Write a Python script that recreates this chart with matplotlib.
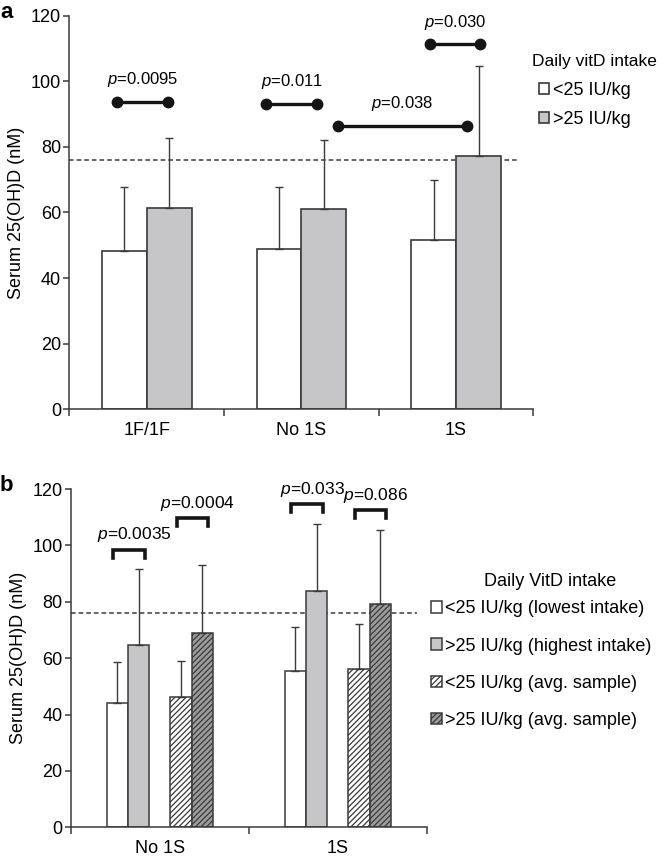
import matplotlib
matplotlib.use('Agg')
import matplotlib.pyplot as plt
import numpy as np

plt.rcParams['font.family'] = ['Liberation Sans', 'DejaVu Sans']
plt.rcParams['mathtext.fontset'] = 'custom'
plt.rcParams['mathtext.it'] = 'Liberation Sans:italic'
plt.rcParams['mathtext.rm'] = 'Liberation Sans'
plt.rcParams['hatch.linewidth'] = 0.9

# Panel a data
groups_a = ['1F/1F', 'No 1S', '1S']
low_a = [48.4, 48.9, 51.6]
low_a_sd = [19.4, 18.9, 18.2]
high_a = [61.5, 61.0, 77.1]
high_a_sd = [21.3, 21.0, 27.6]
pvals_a = ['0.0095', '0.011', '0.038', '0.030']
labels_a = ['<25 IU/kg', '>25 IU/kg']

# Panel b data
groups_b = ['No 1S', '1S']
lowest_b = [44.2, 55.5]
lowest_b_sd = [14.4, 15.5]
highest_b = [64.6, 83.7]
highest_b_sd = [27.1, 23.9]
avglow_b = [46.3, 56.3]
avglow_b_sd = [12.6, 15.7]
avghigh_b = [68.8, 79.2]
avghigh_b_sd = [24.1, 26.2]
pvals_b = ['0.0035', '0.0004', '0.033', '0.086']
labels_b = ['<25 IU/kg (lowest intake)', '>25 IU/kg (highest intake)',
            '<25 IU/kg (avg. sample)', '>25 IU/kg (avg. sample)']

threshold = 76.0

edge = '#3a3a3a'
gray = '#c6c6c8'
dgray = '#9c9c9c'

fig = plt.figure(figsize=(6.64, 8.57), dpi=100)
ax1 = fig.add_axes([0.1044, 0.5224, 0.699, 0.4593])
ax2 = fig.add_axes([0.1065, 0.0347, 0.5360, 0.3947])


def style_axis(ax, ncat):
    ax.set_ylim(0, 120)
    ax.set_xlim(-0.5, ncat - 0.5)
    ax.set_yticks(np.arange(0, 121, 20))
    for s in ['top', 'right']:
        ax.spines[s].set_visible(False)
    for s in ['left', 'bottom']:
        ax.spines[s].set_color(edge)
        ax.spines[s].set_linewidth(1.1)
    ax.tick_params(axis='y', direction='out', length=4, width=1.1, color=edge,
                   labelsize=13, pad=2)
    ax.set_xticks(np.arange(ncat + 1) - 0.5)
    ax.set_xticklabels([])
    ax.tick_params(axis='x', direction='out', length=5, width=1.1, color=edge)
    ax.set_ylabel('Serum 25(OH)D (nM)', fontsize=13, labelpad=4)


# ---------- panel a ----------
xa = np.arange(len(groups_a))
wa = 0.29
err_kw = dict(ecolor=edge, elinewidth=1.0, capsize=3, capthick=1.0)
ax1.bar(xa - wa / 2, low_a, wa, color='white', edgecolor=edge, linewidth=1.2,
        yerr=[np.zeros(3), low_a_sd], error_kw=err_kw, label=labels_a[0], zorder=2)
ax1.bar(xa + wa / 2, high_a, wa, color=gray, edgecolor=edge, linewidth=1.2,
        yerr=[np.zeros(3), high_a_sd], error_kw=err_kw, label=labels_a[1], zorder=2)
style_axis(ax1, len(groups_a))
for x, g in zip(xa, groups_a):
    ax1.text(x, -4, g, ha='center', va='top', fontsize=13)
ax1.axhline(threshold, xmax=0.967, color=edge, ls=(0, (3, 2)), lw=1.1, zorder=1)

# significance lines with dots
br_a = [(0 - 0.19, 0 + 0.135, 93.8), (1 - 0.226, 1 + 0.103, 93.1),
        (1 + 0.237, 2 + 0.07, 86.5), (2 - 0.168, 2 + 0.155, 111.3)]
for (x0, x1, y), p in zip(br_a, pvals_a):
    ax1.plot([x0, x1], [y, y], color='#151515', lw=2.4, marker='o', ms=7.5,
             solid_capstyle='butt', zorder=3)
    ax1.text((x0 + x1) / 2, y + 3.8, '$p$=' + p, ha='center', va='bottom', fontsize=12)

ax1.legend(loc='upper left', bbox_to_anchor=(0.7975, 0.915),
           bbox_transform=fig.transFigure, frameon=False, fontsize=13,
           borderpad=0, handlelength=0.6, handleheight=0.6,
           handletextpad=0.2, labelspacing=0.65)
fig.text(594.5 / 664, 1 - 61.7 / 857, 'Daily vitD intake', fontsize=12.5,
         ha='center', va='center')
fig.text(0.0, 0.985, 'a', fontsize=16, fontweight='bold', ha='left', va='center')

# ---------- panel b ----------
xb = np.arange(len(groups_b))
wb = 0.12
offs = [-0.238, -0.118, 0.12, 0.24]
series = [(lowest_b, lowest_b_sd, 'white', None),
          (highest_b, highest_b_sd, gray, None),
          (avglow_b, avglow_b_sd, 'white', '//////'),
          (avghigh_b, avghigh_b_sd, dgray, '//////')]
for (vals, sd, fc, h), off, lab in zip(series, offs, labels_b):
    ax2.bar(xb + off, vals, wb, color=fc, edgecolor=edge, linewidth=1.1, hatch=h,
            yerr=[np.zeros(2), sd], error_kw=err_kw, label=lab, zorder=2)
style_axis(ax2, len(groups_b))
for x, g in zip(xb, groups_b):
    ax2.text(x, -4.5, g, ha='center', va='top', fontsize=13)
ax2.axhline(threshold, xmax=0.973, color=edge, ls=(0, (3, 2)), lw=1.1, zorder=1)

br_b = [(-0.26, -0.083, 98.5), (0.098, 0.27, 109.6),
        (1 - 0.26, 1 - 0.083, 114.6), (1 + 0.097, 1 + 0.274, 112.5)]
for (x0, x1, y), p in zip(br_b, pvals_b):
    ax2.plot([x0, x0, x1, x1], [y - 2.8, y, y, y - 2.8], color='#151515', lw=2.6,
             solid_joinstyle='miter', zorder=3)
    ax2.text((x0 + x1) / 2 + 0.028, y + 2.0, '$p$=' + p, ha='center', va='bottom',
             fontsize=12.5)

ax2.legend(loc='upper left', bbox_to_anchor=(0.635, 0.310),
           bbox_transform=fig.transFigure, frameon=False, fontsize=13,
           borderpad=0, handlelength=0.6, handleheight=0.6,
           handletextpad=0.2, labelspacing=1.12)
fig.text(550 / 664, 1 - 581.7 / 857, 'Daily VitD intake', fontsize=13,
         ha='center', va='center')
fig.text(0.0, 0.434, 'b', fontsize=16, fontweight='bold', ha='left', va='center')

fig.savefig('out.png', dpi=100)
